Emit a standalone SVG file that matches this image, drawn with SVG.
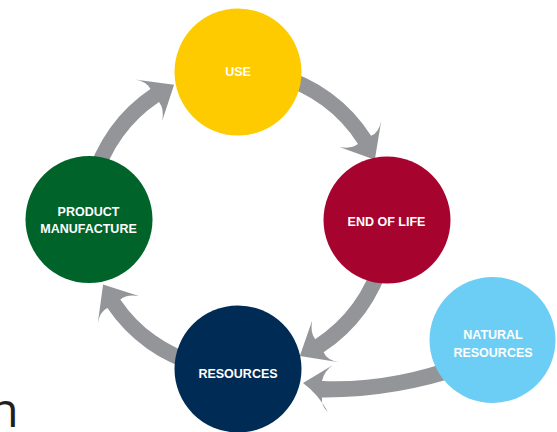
<svg xmlns="http://www.w3.org/2000/svg" width="557" height="432" viewBox="0 0 557 432">
<style>
.arrow{fill:#939598}
.lbl{font-family:"Liberation Sans",Arial,sans-serif;font-weight:bold;font-size:12.5px;fill:#ffffff;text-anchor:middle}
</style>
<rect width="557" height="432" fill="#ffffff"/>
<g id="connectors">
<path class="arrow" d="M85.9,179.2 A157.5,157.5 0 0 1 150.4,89.1 Q146.9,81.3 134.7,79.4 L174.1,84.8 L162.3,120.6 Q164.3,108.7 159.0,102.0 A142,142 0 0 0 100.8,183.2 Z"/>
<path class="arrow" d="M278.8,67.9 A157.5,157.5 0 0 1 371.1,135.8 Q379.1,132.5 381.3,120.4 L374.8,159.7 L339.4,146.9 Q351.2,149.3 358.0,144.1 A142,142 0 0 0 274.8,82.8 Z"/>
<path class="arrow" d="M390.1,260.8 A157.5,157.5 0 0 1 323.6,352.2 Q326.9,360.2 339.1,362.2 L299.8,356.1 L312.2,320.6 Q309.9,332.5 315.1,339.2 A142,142 0 0 0 375.2,256.8 Z"/>
<path class="arrow" d="M197.2,372.1 A157.5,157.5 0 0 1 107.4,308.1 Q99.6,311.6 97.7,323.8 L103.1,284.4 L138.8,296.1 Q126.9,294.1 120.3,299.4 A142,142 0 0 0 201.2,357.2 Z"/>
<path class="arrow" d="M462,357 Q390,384 322,381 Q324,371 333,365 L303,383 Q318,394 328,412 Q321,406 322,397.5 Q395,398 468,373 Z"/>
</g>
<g id="use">
<circle cx="238" cy="72" r="63.5" fill="#FECB00"/>
<text class="lbl" x="238" y="76">USE</text>
</g>
<g id="end-of-life">
<circle cx="387" cy="220" r="63.5" fill="#A6032F"/>
<text class="lbl" x="386.5" y="226">END OF LIFE</text>
</g>
<g id="resources">
<circle cx="238" cy="369" r="63.5" fill="#002B54"/>
<text class="lbl" x="238" y="378">RESOURCES</text>
</g>
<g id="product-manufacture">
<circle cx="89" cy="219.5" r="63.5" fill="#00632A"/>
<text class="lbl" x="88.5" y="216">PRODUCT</text>
<text class="lbl" x="88.5" y="233">MANUFACTURE</text>
</g>
<g id="natural-resources">
<circle cx="492.5" cy="340" r="63" fill="#6DCEF5"/>
<text class="lbl" x="493" y="338.5">NATURAL</text>
<text class="lbl" x="493" y="356.5">RESOURCES</text>
</g>
<text x="-10.7" y="427" font-family="'Open Sans',sans-serif" font-size="48" fill="#231F20">n</text>
</svg>
